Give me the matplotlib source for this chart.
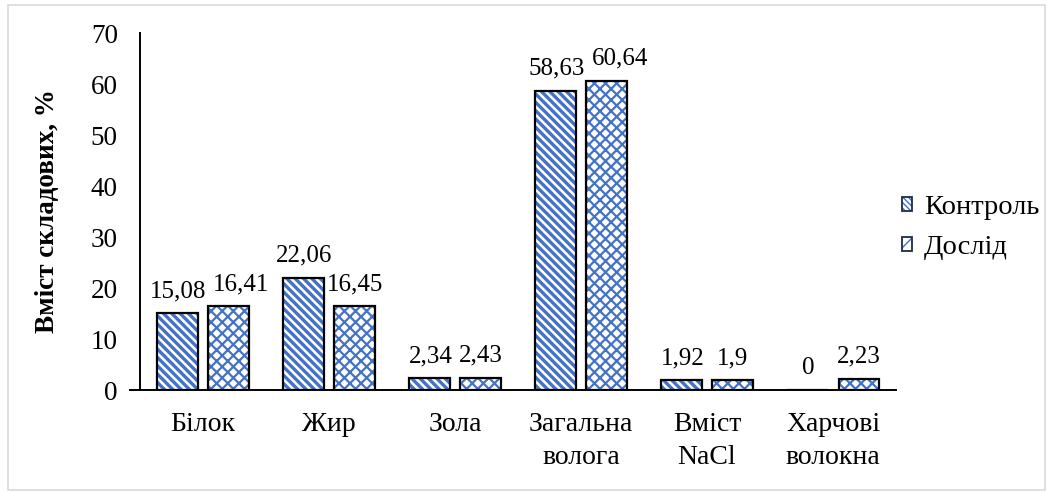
import matplotlib
matplotlib.use("Agg")
import matplotlib.pyplot as plt
import numpy as np
from matplotlib.patches import Rectangle, Patch
from matplotlib.lines import Line2D
from matplotlib.legend_handler import HandlerTuple

categories = ["Білок", "Жир", "Зола", "Загальна\nволога", "Вміст\nNaCl", "Харчові\nволокна"]
control = [15.08, 22.06, 2.34, 58.63, 1.92, 0]
experiment = [16.41, 16.45, 2.43, 60.64, 1.9, 2.23]
series_names = ["Контроль", "Дослід"]
y_ticks = [0, 10, 20, 30, 40, 50, 60, 70]

plt.rcParams["font.family"] = ["Liberation Serif", "DejaVu Serif"]
blue = "#4472C4"

fig = plt.figure(figsize=(10.47, 4.92), dpi=100)
ax = fig.add_axes([0.1337, 0.2073, 0.7221, 0.7256])

# light frame around the whole chart area
fig.patches.append(Rectangle((0.008, 0.004), 0.99, 0.986, transform=fig.transFigure,
                             fill=False, edgecolor="#d9d9d9", linewidth=1.2))

x = np.arange(len(categories))
w = 0.325
off = 0.206

def hatched_bars(pos, vals, hatch, hlw):
    with plt.rc_context({"hatch.linewidth": hlw}):
        ax.bar(pos, vals, w, facecolor="white", edgecolor=blue, hatch=hatch, linewidth=0, zorder=2)
    ax.bar(pos, vals, w, facecolor="none", edgecolor="black", linewidth=1.6, zorder=3)

hatched_bars(x - off, control, "\\\\\\\\", 2.4)
hatched_bars(x + off, experiment, "xxx", 1.6)

def fmt(v):
    s = f"{v:.2f}".rstrip("0").rstrip(".")
    return s.replace(".", ",")

# a couple of labels are nudged sideways so neighbouring values don't collide
nudge_pt = {(1, 0): 9, (1, 3): 9.5}

for si, (pos, vals) in enumerate(((x - off, control), (x + off, experiment))):
    for ci, (p, v) in enumerate(zip(pos, vals)):
        dx = nudge_pt.get((si, ci), 1 if si == 0 else 0)
        ax.annotate(fmt(v), (p, v), xytext=(dx, 8), textcoords="offset points",
                    ha="center", va="bottom", fontsize=18)

ax.set_xlim(-0.5, 5.5)
ax.set_ylim(0, 70)
ax.set_yticks(y_ticks)
ax.set_xticks(x)
ax.set_xticklabels(categories, fontsize=20, linespacing=1.4)
ax.tick_params(axis="y", length=0, pad=16, labelsize=19.5)
ax.tick_params(axis="x", length=0, pad=16)
for s in ("top", "right"):
    ax.spines[s].set_visible(False)
ax.spines["left"].set_linewidth(1.4)
ax.spines["bottom"].set_linewidth(1.4)
ax.add_line(Line2D([-0.58, -0.5], [0, 0], color="black", linewidth=1.4, clip_on=False))

ax.set_ylabel("Вміст складових, %", fontsize=19.5, fontweight="bold")
ax.yaxis.set_label_coords(-0.106, 0.5)

# legend keys: blue hatch underneath a dark outline
with plt.rc_context({"hatch.linewidth": 2.0}):
    fill_c = Patch(facecolor="white", edgecolor=blue, hatch="\\\\\\\\\\\\", linewidth=0)
with plt.rc_context({"hatch.linewidth": 1.5}):
    fill_e = Patch(facecolor="white", edgecolor=blue, hatch="//", linewidth=0)
outline_c = Patch(facecolor="none", edgecolor="#1f2a44", linewidth=1.3)
outline_e = Patch(facecolor="none", edgecolor="#1f2a44", linewidth=1.3)
handles = [(fill_c, outline_c), (fill_e, outline_e)]
leg = ax.legend(handles, series_names, loc="center left", bbox_to_anchor=(1.0, 0.455),
                frameon=False, fontsize=20.5, handlelength=0.37, handleheight=0.37,
                handletextpad=0.4, labelspacing=0.52, borderaxespad=0.2, borderpad=0.0,
                handler_map={tuple: HandlerTuple(ndivide=1, pad=0)})

fig.savefig("out.png", dpi=100)
